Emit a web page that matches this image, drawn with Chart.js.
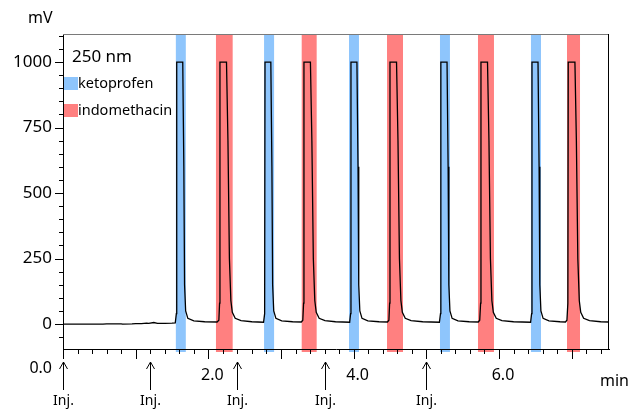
<!DOCTYPE html>
<html>
<head>
<meta charset="utf-8">
<script src="https://cdn.jsdelivr.net/npm/chart.js@4"></script>
<style>
  body { margin: 0; background: #fff; }
  #wrap { width: 631px; height: 410px; }
</style>
</head>
<body>
<div id="wrap"><canvas id="chrom" width="631" height="410"></canvas></div>
<script>
//DATA
// time (min), signal (mV)
let baseline = [
  [0, 0], [0.55, 0], [0.6, 1], [0.8, 1], [0.82, 0], [0.95, 1], [1.0, 2], [1.08, 2],
  [1.15, 4], [1.18, 3], [1.25, 6], [1.3, 3], [1.4, 3], [1.5, 4],
];
let peakKeto1 = [[1.545, 5], [1.56, 40], [1.565, 1000], [1.648, 1000], [1.663, 600], [1.673, 150], [1.688, 50], [1.718, 22], [1.8, 12], [1.95, 9]];
let peakIndo1 = [[2.12, 8], [2.145, 15], [2.155, 80], [2.16, 1000], [2.25, 1000], [2.27, 700], [2.29, 250], [2.31, 90], [2.33, 45], [2.37, 22], [2.45, 13], [2.6, 9]];
let peakKeto2 = [[2.76, 7], [2.775, 40], [2.78, 1000], [2.86, 1000], [2.875, 600], [2.885, 150], [2.9, 50], [2.93, 22], [3.01, 12], [3.16, 9]];
let peakIndo2 = [[3.28, 8], [3.3, 15], [3.311, 80], [3.316, 1000], [3.405, 1000], [3.425, 700], [3.445, 250], [3.465, 90], [3.485, 45], [3.525, 22], [3.605, 13], [3.75, 9]];
let peakKeto3 = [[3.945, 7], [3.958, 40], [3.963, 1000], [4.045, 1000], [4.06, 600], [4.07, 150], [4.085, 50], [4.115, 22], [4.195, 12], [4.35, 9]];
let peakIndo3 = [[4.465, 8], [4.485, 15], [4.495, 80], [4.5, 1000], [4.59, 1000], [4.61, 700], [4.63, 250], [4.65, 90], [4.67, 45], [4.71, 22], [4.79, 13], [4.95, 9]];
let peakKeto4 = [[5.18, 7], [5.195, 40], [5.2, 1000], [5.285, 1000], [5.3, 600], [5.31, 150], [5.325, 50], [5.355, 22], [5.435, 12], [5.59, 9]];
let peakIndo4 = [[5.715, 8], [5.735, 15], [5.747, 80], [5.752, 1000], [5.842, 1000], [5.862, 700], [5.882, 250], [5.902, 90], [5.922, 45], [5.962, 22], [6.04, 13], [6.2, 9]];
let peakKeto5 = [[6.435, 7], [6.449, 40], [6.454, 1000], [6.537, 1000], [6.552, 600], [6.562, 150], [6.577, 50], [6.607, 22], [6.687, 12], [6.84, 9]];
let peakIndo5 = [[6.915, 8], [6.935, 15], [6.948, 80], [6.953, 1000], [7.045, 1000], [7.065, 700], [7.085, 250], [7.105, 90], [7.125, 45], [7.165, 22], [7.245, 13], [7.4, 9], [7.514, 8]];

// fraction windows (min)
let ketoWindows = [[1.553, 1.69], [2.767, 2.905], [3.936, 4.073], [5.188, 5.325], [6.44, 6.578]];
let indoWindows = [[2.105, 2.335], [3.285, 3.491], [4.459, 4.679], [5.711, 5.931], [6.936, 7.115]];

// injection marks (min)
let injTimes = [0, 1.2, 2.4, 3.6, 5.0];

// axes
let xLabels = [2, 4, 6];
let yLabels = [0, 250, 500, 750, 1000];
let xTickStep = 0.2;
let yTickStep = 50;
let legendNames = ["ketoprofen", "indomethacin"];
let wavelength = "250 nm";

//COLORS
let ketoColor = "#8ec5fc";
let indoColor = "#ff8080";
let FONT = "'Noto Sans', 'DejaVu Sans', sans-serif";

let trace = []
  .concat(baseline, peakKeto1, peakIndo1, peakKeto2, peakIndo2, peakKeto3,
    peakIndo3, peakKeto4, peakIndo4, peakKeto5, peakIndo5)
  .map((p) => ({ x: p[0], y: p[1] }));

// tick positions on round steps inside the scale range
function stepTicks(scale, step) {
  let out = [];
  let first = Math.ceil(scale.min / step - 1e-9);
  let last = Math.floor(scale.max / step + 1e-9);
  for (let i = first; i <= last; i++) {
    out.push({ value: Math.round(i * step * 1000) / 1000 });
  }
  scale.ticks = out;
}

//fraction bands, under everything
let bandsPlugin = {
  id: "bands",
  beforeDraw(chart) {
    let ctx = chart.ctx;
    let xs = chart.scales.x;
    let area = chart.chartArea;
    ctx.save();
    let paint = (wins, color) => {
      ctx.fillStyle = color;
      for (let w of wins) {
        let a = xs.getPixelForValue(w[0]);
        let b = xs.getPixelForValue(w[1]);
        ctx.fillRect(a, area.top, b - a, area.bottom - area.top + 3);
      }
    };
    paint(ketoWindows, ketoColor);
    paint(indoWindows, indoColor);
    ctx.restore();
  },
};

//ticks, frame, labels, arrows
let decorPlugin = {
  id: "decor",
  afterDraw(chart) {
    let ctx = chart.ctx;
    let xs = chart.scales.x;
    let ys = chart.scales.y;
    let area = chart.chartArea;
    ctx.save();
    ctx.strokeStyle = "#000";
    ctx.lineWidth = 1;

    // y ticks
    for (let t of ys.ticks) {
      let py = Math.round(ys.getPixelForValue(t.value)) + 0.5;
      let len = Math.round(t.value) % 250 == 0 ? 8 : 4;
      ctx.beginPath();
      ctx.moveTo(area.left - len, py);
      ctx.lineTo(area.left, py);
      ctx.stroke();
    }
    // x ticks
    for (let t of xs.ticks) {
      let px = Math.round(xs.getPixelForValue(t.value)) + 0.5;
      let major = Math.abs(t.value - Math.round(t.value)) < 1e-6;
      let len = major ? 10 : 5;
      ctx.beginPath();
      ctx.moveTo(px, area.bottom);
      ctx.lineTo(px, area.bottom + len);
      ctx.stroke();
    }

    // frame top + right
    ctx.strokeStyle = "#7a7a7a";
    ctx.beginPath();
    ctx.moveTo(area.left, area.top + 0.5);
    ctx.lineTo(area.right, area.top + 0.5);
    ctx.stroke();
    ctx.strokeStyle = "#000";
    ctx.beginPath();
    ctx.moveTo(area.right - 0.5, area.top);
    ctx.lineTo(area.right - 0.5, area.bottom);
    ctx.stroke();

    // texts
    ctx.fillStyle = "#000";
    ctx.textBaseline = "middle";
    ctx.font = "16px " + FONT;
    ctx.textAlign = "left";
    ctx.fillText("mV", 28, 18);
    ctx.fillText("min", 600, 381);
    ctx.textAlign = "right";
    ctx.fillText("0.0", 52, 368);
    ctx.textAlign = "left";
    ctx.font = "17px " + FONT;
    ctx.fillText(wavelength, 72, 57);

    // legend
    ctx.font = "14.5px " + FONT;
    let swatches = [ketoColor, indoColor];
    for (let i = 0; i < legendNames.length; i++) {
      let top = 77 + i * 27;
      ctx.fillStyle = swatches[i];
      ctx.fillRect(64, top, 14, 13);
      ctx.fillStyle = "#000";
      ctx.fillText(legendNames[i], 78, top + 7);
    }

    // injection arrows
    ctx.font = "14px " + FONT;
    ctx.textAlign = "center";
    for (let t of injTimes) {
      let px = Math.round(xs.getPixelForValue(t)) + 0.5;
      ctx.beginPath();
      ctx.moveTo(px, 390);
      ctx.lineTo(px, 362);
      ctx.moveTo(px - 4, 369);
      ctx.lineTo(px, 362);
      ctx.lineTo(px + 4, 369);
      ctx.stroke();
      ctx.fillText("Inj.", px, 401);
    }
    ctx.restore();
  },
};

let chromCanvas = document.getElementById("chrom").getContext("2d");
new Chart(chromCanvas, {
  type: "line",
  data: {
    datasets: [
      {
        data: trace,
        borderColor: "#000",
        borderWidth: 1.3,
        pointRadius: 0,
        tension: 0,
        fill: false,
      },
    ],
  },
  options: {
    responsive: false,
    animation: false,
    events: [],
    layout: { padding: { top: 34, right: 22, left: 0, bottom: 0 } },
    plugins: { legend: { display: false }, tooltip: { enabled: false } },
    scales: {
      x: {
        type: "linear",
        min: 0,
        max: 7.514,
        afterBuildTicks: (s) => stepTicks(s, xTickStep),
        afterFit: (s) => { s.height = 61; },
        grid: { display: true, drawOnChartArea: false, drawTicks: false },
        border: { display: true, color: "#000", width: 1 },
        ticks: {
          autoSkip: false,
          maxRotation: 0,
          padding: 17,
          labelOffset: 4,
          color: "#000",
          font: { size: 16, family: FONT },
          callback: (v) => {
            let r = Math.round(v);
            return Math.abs(v - r) < 1e-6 && xLabels.includes(r) ? r.toFixed(1) : "";
          },
        },
      },
      y: {
        min: -95,
        max: 1107,
        afterBuildTicks: (s) => stepTicks(s, yTickStep),
        afterFit: (s) => { s.width = 63; },
        grid: { display: true, drawOnChartArea: false, drawTicks: false },
        border: { display: true, color: "#000", width: 1 },
        ticks: {
          autoSkip: false,
          padding: 11,
          color: "#000",
          font: { size: 17, family: FONT },
          callback: (v) => {
            let r = Math.round(v);
            return Math.abs(v - r) < 1e-6 && yLabels.includes(r) ? String(r) : "";
          },
        },
      },
    },
  },
  plugins: [bandsPlugin, decorPlugin],
});
</script>
</body>
</html>
